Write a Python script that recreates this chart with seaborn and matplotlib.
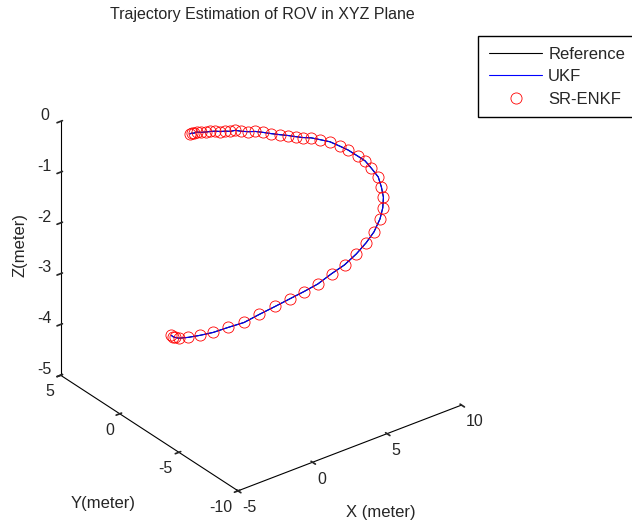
import matplotlib
matplotlib.use("Agg")
import matplotlib.pyplot as plt
import seaborn as sns

# ROV trajectory (metres)
x_pos = [1.32, 1.49, 1.66, 1.9, 2.21, 2.57, 2.91, 3.24, 3.56, 3.86, 4.15, 4.43, 4.75, 5.11,
         5.46, 5.83, 6.19, 6.56, 6.88, 7.17, 7.41, 7.67, 7.93, 8.18, 8.38, 8.51, 8.59, 8.59,
         8.52, 8.3, 8.1, 7.83, 6.69, 6.19, 5.45, 4.68, 3.87, 3.02, 2.2, 1.41, 0.69, 0.03,
         -0.6, -1.2, -1.7, -2.13, -2.43, -2.58, -2.57, -2.35, -2.1, -1.84, -1.42]
y_pos = [2.04, 2.09, 2.14, 2.19, 2.24, 2.28, 2.3, 2.29, 2.27, 2.23, 2.18, 2.11, 2.02, 1.89,
         1.73, 1.53, 1.3, 1.02, 0.74, 0.44, 0.15, -0.21, -0.64, -1.17, -1.76, -2.28, -3.02,
         -3.62, -4.22, -5.1, -5.62, -6.13, -7.51, -7.91, -8.33, -8.64, -8.83, -8.9, -8.84,
         -8.67, -8.4, -8.05, -7.59, -7.0, -6.35, -5.55, -4.66, -3.74, -2.7, -1.65, -0.99,
         -0.49, 0.14]
z_pos = [-0.51, -0.52, -0.55, -0.56, -0.61, -0.65, -0.68, -0.71, -0.75, -0.77, -0.8, -0.8,
         -0.84, -0.87, -0.88, -0.91, -0.94, -0.96, -0.97, -0.98, -0.98, -0.96, -0.96, -0.95,
         -0.97, -0.98, -1.0, -1.0, -1.04, -1.06, -1.16, -1.25, -1.12, -1.22, -1.33, -1.41,
         -1.51, -1.62, -1.71, -1.85, -1.96, -2.08, -2.23, -2.41, -2.61, -2.78, -2.98, -3.16,
         -3.36, -3.56, -3.67, -3.76, -3.88]

x_ticks = [-5, 0, 5, 10]
y_ticks = [-10, -5, 0, 5]
z_ticks = [-5, -4, -3, -2, -1, 0]

sns.set_theme(style="white")
plt.rcParams['font.family'] = ['Liberation Sans', 'DejaVu Sans']
plt.rcParams['axes.unicode_minus'] = False

fig = plt.figure(figsize=(6.32, 5.27), dpi=100)
ax = fig.add_axes([-0.0226, 0.0127, 0.85, 0.95], projection='3d')
ax.set_proj_type('ortho')
ax.view_init(elev=30, azim=-127.5)
ax.set_box_aspect((0.961, 0.994, 1), zoom=0.97)

ax.plot(x_pos, y_pos, z_pos, color='black', lw=0.8, label='Reference')
ax.plot(x_pos, y_pos, z_pos, color='blue', lw=0.8, label='UKF')
ax.plot(x_pos, y_pos, z_pos, 'o', mfc='none', mec='red', ms=8, mew=0.6, label='SR-ENKF')

ax.set_xlim(-5, 10)
ax.set_ylim(-10, 5)
ax.set_zlim(-5, 0)
ax.set_xticks(x_ticks)
ax.set_yticks(y_ticks)
ax.set_zticks(z_ticks)
ax.tick_params(labelsize=11.5)
ax.xaxis.set_tick_params(pad=-3.3)
ax.yaxis.set_tick_params(pad=-3.0)
ax.zaxis.set_tick_params(pad=-0.5)
for t in ax.xaxis.get_major_ticks():
    t.label1.set_horizontalalignment('left')
for t in ax.yaxis.get_major_ticks():
    t.label1.set_horizontalalignment('right')
for t in ax.zaxis.get_major_ticks():
    t.label1.set_verticalalignment('baseline')
ax.grid(False)
for axis in (ax.xaxis, ax.yaxis, ax.zaxis):
    axis.set_pane_color((1, 1, 1, 0))
    axis.pane.set_edgecolor((1, 1, 1, 0))
    axis.line.set_color('black')
    axis.line.set_linewidth(0.8)
    axis.set_rotate_label(False)
ax.set_xlabel('X (meter)', fontsize=12, rotation=0, labelpad=12)
ax.set_ylabel('Y(meter)', fontsize=12, rotation=0, labelpad=18)
ax.set_zlabel('Z(meter)', fontsize=12, rotation=90, labelpad=-2)

fig.text(262/632, 1-15/527, 'Trajectory Estimation of ROV in XYZ Plane', fontsize=11.5,
         ha='center', va='center')
ax.legend(loc='upper left', bbox_to_anchor=(478/632, 1-36/527), bbox_transform=fig.transFigure,
          fancybox=False, edgecolor='black', framealpha=1, borderaxespad=0, fontsize=12,
          handlelength=3.2, handletextpad=0.36, labelspacing=0.44, borderpad=0.65)
fig.savefig('out.png', dpi=100)
